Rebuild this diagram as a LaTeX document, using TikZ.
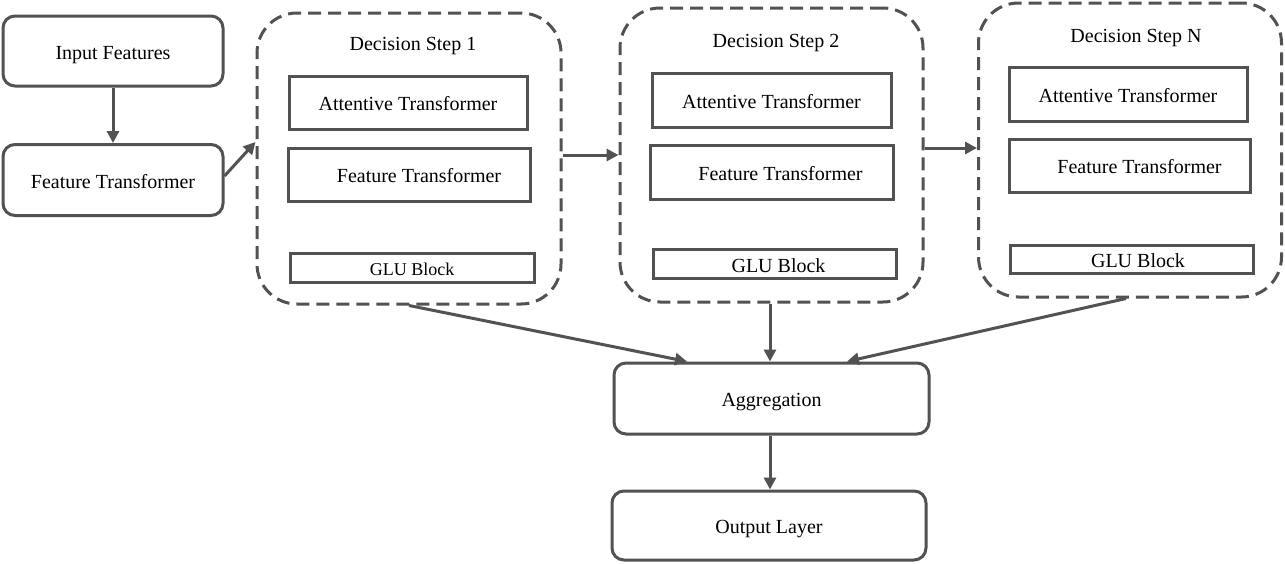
\documentclass[tikz,border=0pt]{standalone}
\usepackage{fontspec}
\setmainfont{Liberation Serif}
\usetikzlibrary{arrows.meta,calc}
\definecolor{ln}{RGB}{82,82,82}
\tikzset{
  rbox/.style={draw=ln, line width=3pt, rounded corners=12pt, inner sep=0pt, align=center, text height=20pt, text depth=4pt, font=\fontsize{20}{24}\selectfont},
  sbox/.style={draw=ln, line width=3pt, inner sep=0pt, align=center, text height=20pt, text depth=4pt, font=\fontsize{20}{24}\selectfont},
  stepbox/.style={draw=ln, line width=3pt, rounded corners=40pt, dash pattern=on 13pt off 7pt, inner sep=0pt},
  ttl/.style={inner sep=0pt, text height=20pt, text depth=4pt, font=\fontsize{20}{24}\selectfont},
  arr/.style={draw=ln, line width=3pt, -{Triangle[length=12pt,width=12pt]}}
}
\begin{document}
\begin{tikzpicture}[x=1pt,y=-1pt]
\path[fill=white] (0,0) rectangle (1285,563);
\useasboundingbox (0,0) rectangle (1285,563);

\node[rbox, minimum width=220pt, minimum height=70pt] (inp) at (113,51) {Input Features};
\node[rbox, minimum width=220pt, minimum height=71pt] (ft) at (113,180) {Feature Transformer};

\node[stepbox, minimum width=304pt, minimum height=291pt] (s1) at (409,158.5) {};
\node[stepbox, minimum width=303pt, minimum height=294pt] (s2) at (771.5,155) {};
\node[stepbox, minimum width=303pt, minimum height=294pt] (s3) at (1130,150) {};

\node[ttl] (t1) at (413,42.6) {Decision Step 1};
\node[ttl] (t2) at (776,39.6) {Decision Step 2};
\node[ttl] (t3) at (1136,34.6) {Decision Step N};

\node[sbox, minimum width=238pt, minimum height=53pt] (a1) at (408,102.5) {Attentive Transformer};
\node[sbox, minimum width=242pt, minimum height=53pt] (f1) at (409.5,174.5) {\hspace*{19pt}Feature Transformer};
\node[sbox, minimum width=244pt, minimum height=29pt, font=\fontsize{18}{22}\selectfont] (g1) at (412,267.5) {GLU Block};

\node[sbox, minimum width=239pt, minimum height=54pt] (a2) at (771.5,100) {Attentive Transformer};
\node[sbox, minimum width=243pt, minimum height=54pt] (f2) at (771.5,172) {\hspace*{18pt}Feature Transformer};
\node[sbox, minimum width=243pt, minimum height=29pt] (g2) at (774.5,264) {\hspace*{8pt}GLU Block};

\node[sbox, minimum width=238pt, minimum height=54pt] (a3) at (1128,94) {Attentive Transformer};
\node[sbox, minimum width=241pt, minimum height=53pt] (f3) at (1129.5,165.5) {\hspace*{20pt}Feature Transformer};
\node[sbox, minimum width=243pt, minimum height=28pt] (g3) at (1131.5,259) {\hspace*{13pt}GLU Block};

\node[rbox, minimum width=315pt, minimum height=71pt] (agg) at (771.5,398.5) {Aggregation};
\node[rbox, minimum width=314pt, minimum height=69pt] (out) at (769,525.5) {Output Layer};

\draw[arr] (inp.south) -- (ft.north);
\draw[arr] ($(ft.east)+(0,-4)$) -- ($(s1.west)+(0,-16.5)$);
\draw[arr] ($(s1.east)+(0,-3.5)$) -- ($(s2.west)+(0,0)$);
\draw[arr] ($(s2.east)+(0,-7)$) -- ($(s3.west)+(0,-2)$);
\draw[arr] (s1.south) -- ($(agg.north)+(-84.5,0)$);
\draw[arr] ($(s2.south)+(-1.5,0)$) -- ($(agg.north)+(-1.5,0)$);
\draw[arr] ($(s3.south)+(-4,0)$) -- ($(agg.north)+(75.5,0)$);
\draw[arr] ($(agg.south)+(-1.5,0)$) -- ($(out.north)+(1,0)$);
\end{tikzpicture}
\end{document}
